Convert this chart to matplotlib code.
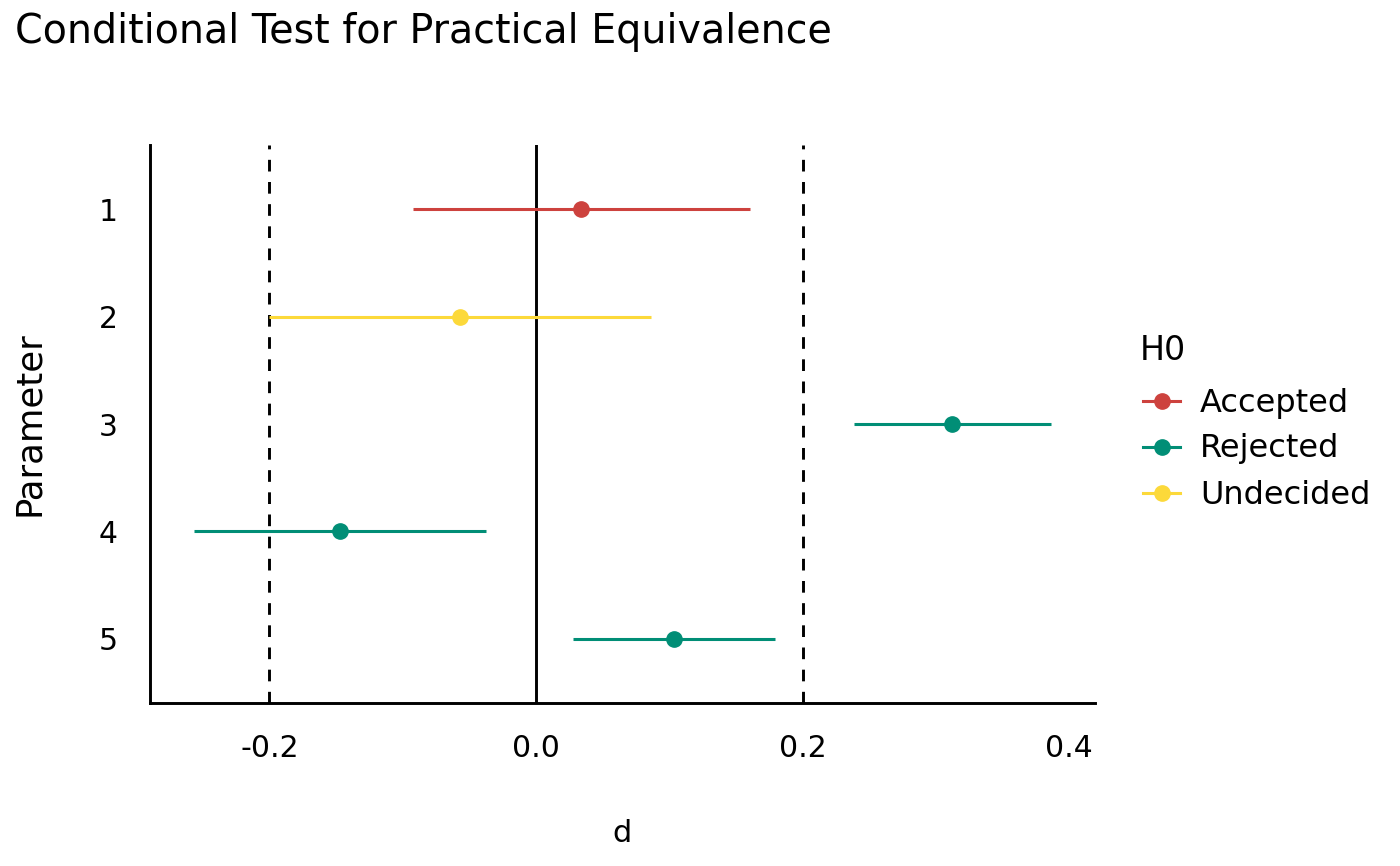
import matplotlib
matplotlib.use("Agg")
import matplotlib.pyplot as plt
from matplotlib.lines import Line2D

params = ["1", "2", "3", "4", "5"]
estimate = [0.034, -0.057, 0.312, -0.147, 0.1035]
ci_low = [-0.092, -0.200, 0.2385, -0.2565, 0.028]
ci_high = [0.1605, 0.0863, 0.386, -0.0375, 0.179]
h0 = ["Accepted", "Undecided", "Rejected", "Rejected", "Rejected"]
categories = ["Accepted", "Rejected", "Undecided"]
colors = {"Accepted": "#CD423E", "Rejected": "#018E76", "Undecided": "#FCD93A"}
rope = [-0.2, 0.2]
xticks = [-0.2, 0.0, 0.2, 0.4]

W, H = 1400, 866
fig = plt.figure(figsize=(14, 8.66), dpi=100)
ax = fig.add_axes([150/W, 1-703/H, (1095-150)/W, (703-145)/H])

ypos = list(range(1, len(params)+1))
for y, e, lo, hi, h in zip(ypos, estimate, ci_low, ci_high, h0):
    c = colors[h]
    ax.plot([lo, hi], [y, y], color=c, lw=2.2, solid_capstyle="butt", zorder=3)
    ax.plot([e], [y], "o", color=c, ms=11, zorder=4)

ax.axvline(0, color="black", lw=2.1, zorder=2)
for r in rope:
    ax.axvline(r, color="black", lw=2.1, ls=(0, (4.0, 3.6)), zorder=2)

ax.set_xlim(-0.2896, 0.4193)
ax.set_ylim(5.6, 0.4)
ax.set_yticks(ypos)
ax.set_yticklabels(params)
ax.set_xticks(xticks)
ax.set_xticklabels(["-0.2", "0.0", "0.2", "0.4"])
ax.tick_params(length=0, labelsize=21.5)
ax.tick_params(axis="x", pad=22)
ax.tick_params(axis="y", pad=23)
for s in ["top", "right"]:
    ax.spines[s].set_visible(False)
for s in ["left", "bottom"]:
    ax.spines[s].set_linewidth(2.1)

ax.xaxis.set_label_coords(0.5, -(833-703)/(703-145))
ax.yaxis.set_label_coords(-(150-29)/(1095-150), (703-423)/(703-145))
ax.set_xlabel("d", fontsize=22, va="center")
ax.set_ylabel("Parameter", fontsize=25.5, va="center")

fig.text(15/W, 1-32/H, "Conditional Test for Practical Equivalence",
         fontsize=28.5, va="center", ha="left")

# legend (built manually to match placement)
fig.text(1140/W, 1-350/H, "H0", fontsize=24, va="center", ha="left")
entry_y = [401, 447, 493]
for cat, yy in zip(categories, entry_y):
    yf = 1 - yy/H
    fig.add_artist(Line2D([1143/W, 1180/W], [yf, yf], color=colors[cat], lw=2.2,
                          transform=fig.transFigure))
    fig.add_artist(Line2D([1161.5/W], [yf], color=colors[cat], marker="o", ms=11,
                          transform=fig.transFigure))
    fig.text(1200/W, yf - 2/H, cat, fontsize=23, va="center", ha="left")

fig.savefig("out.png", dpi=100)
